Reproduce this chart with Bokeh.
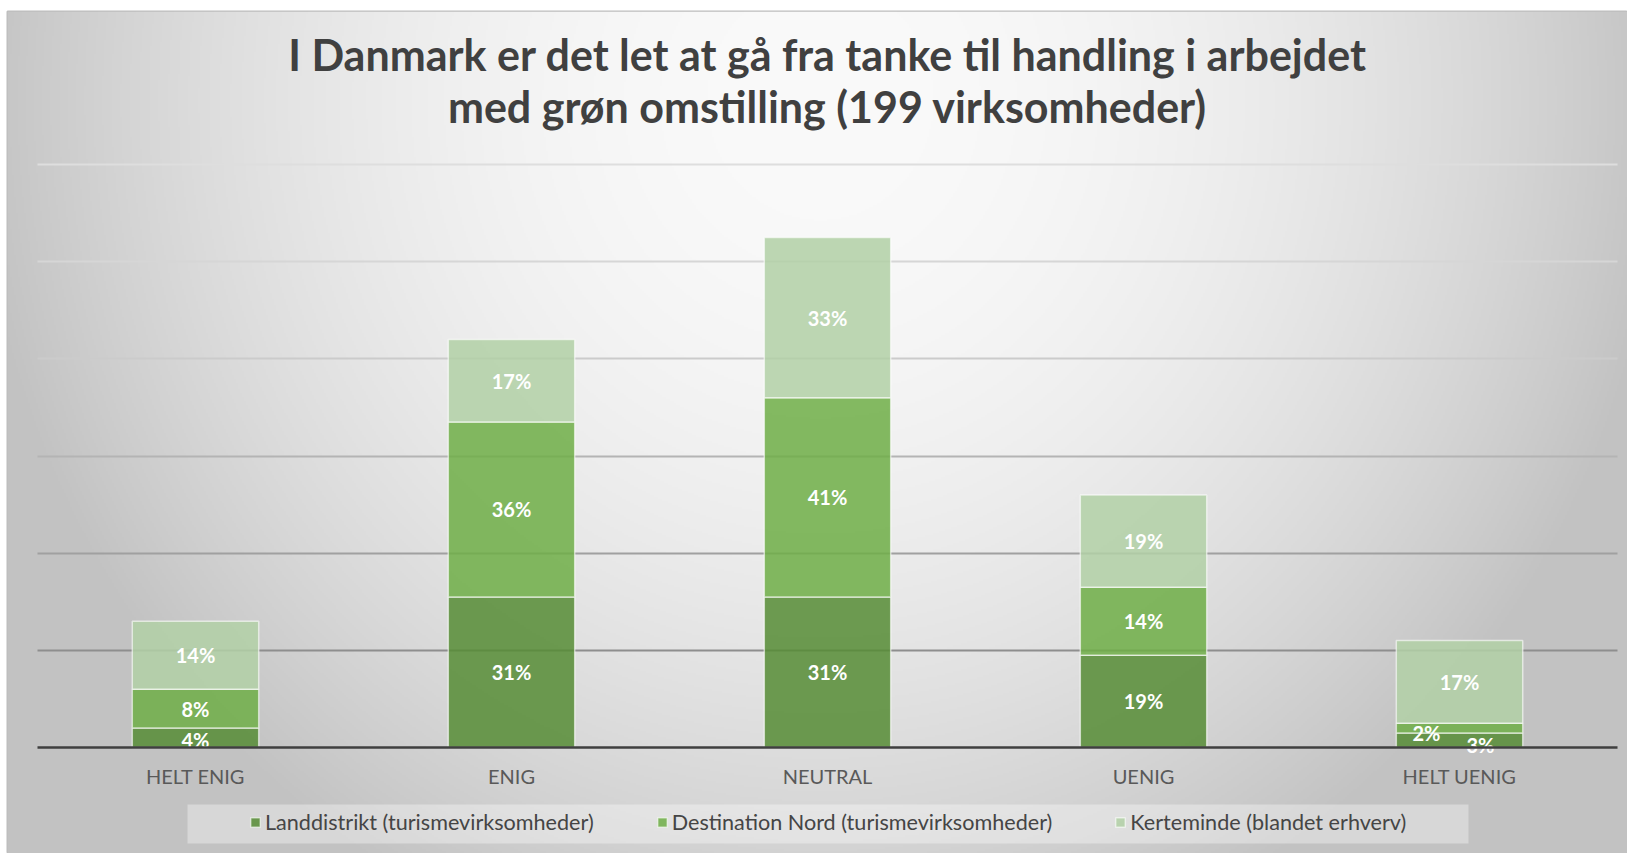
import numpy as np
from bokeh.plotting import figure
from bokeh.models import (ColumnDataSource, LinearAxis, FixedTicker, Grid, Label,
                          Legend, LegendItem, BoxAnnotation, Range1d)
from bokeh.core.properties import value
from bokeh.embed import file_html
from bokeh.resources import INLINE

# ---------------- data ----------------
categories = ["HELT ENIG", "ENIG", "NEUTRAL", "UENIG", "HELT UENIG"]
series = ["Landdistrikt (turismevirksomheder)",
          "Destination Nord (turismevirksomheder)",
          "Kerteminde (blandet erhverv)"]
landdistrikt = [4, 31, 31, 19, 3]
destination_nord = [8, 36, 41, 14, 2]
kerteminde = [14, 17, 33, 19, 17]
y_ticks = [0, 20, 40, 60, 80, 100, 120]
title_lines = ["I Danmark er det let at gå fra tanke til handling i arbejdet",
               "med grøn omstilling (199 virksomheder)"]

# ---------------- style ----------------
FONT = "Lato"
colors = ["#568c35", "#6eae46", "#b2d0a6"]
grid_colors = ["#8e8e8e", "#a0a0a0", "#b4b4b4", "#cbcbcb", "#d6d6d6", "#dedede"]
label_nudge = {("HELT UENIG", series[0]): (21, 5),
               ("HELT UENIG", series[1]): (-33, 5),
               ("HELT ENIG", series[0]): (0, 2)}

W, H = 1627, 853
ML, MT = 7, 11            # white strip left / top of the chart frame
FW, FH = W - ML, H - MT   # frame size
x_start, x_end = -0.5949, 4.5316
y_start, y_end = -21.82, 151.50

p = figure(width=W, height=H, output_backend="svg", toolbar_location=None, tools="",
           x_range=Range1d(x_start, x_end), y_range=Range1d(y_start, y_end),
           x_axis_location=None, y_axis_location=None,
           min_border_left=ML, min_border_top=MT, min_border_right=0, min_border_bottom=0)
p.grid.visible = False
p.outline_line_color = "#bdbdbd"
p.outline_line_width = 2
p.background_fill_color = "#d0d0d0"
p.border_fill_color = "white"

# radial background gradient
gw, gh = FW // 2, FH // 2
xs = (np.arange(gw) + 0.5) * FW / gw
ys = (np.arange(gh) + 0.5) * FH / gh
X, Y = np.meshgrid(xs, ys)
d2 = ((X - 813) / 850) ** 2 + ((Y - 89) / 900) ** 2
g = (250 - 56 * np.minimum(1, d2))
g = np.flipud(g).astype(np.uint8)
img = np.empty((gh, gw), dtype=np.uint32)
view = img.view(dtype=np.uint8).reshape((gh, gw, 4))
view[..., 0] = g
view[..., 1] = g
view[..., 2] = g
view[..., 3] = 255
p.image_rgba(image=[img], x=x_start, y=y_start, dw=x_end - x_start, dh=y_end - y_start,
             level="image")

# gridlines
for t, c in zip(y_ticks[1:], grid_colors):
    p.add_layout(Grid(dimension=1, ticker=FixedTicker(ticks=[t]), grid_line_color=c,
                      grid_line_width=2, cross_bounds=(-0.5, 4.5)))

# stacked bars
xpos = list(range(len(categories)))
src = ColumnDataSource(dict(x=xpos, l=landdistrikt, d=destination_nord, k=kerteminde))
renderers = p.vbar_stack(["l", "d", "k"], x="x", width=0.4, source=src,
                         fill_color=colors, fill_alpha=0.85,
                         line_color="white", line_alpha=0.6, line_width=1.5)

# data labels
lx, ly, lt, xo, yo = [], [], [], [], []
bottoms = [0] * len(categories)
for name, vals in zip(series, [landdistrikt, destination_nord, kerteminde]):
    for i, v in enumerate(vals):
        lx.append(i)
        ly.append(bottoms[i] + v / 2)
        lt.append(f"{v}%")
        nx, ny = label_nudge.get((categories[i], name), (0, 0))
        xo.append(nx)
        yo.append(ny)
        bottoms[i] += v
lsrc = ColumnDataSource(dict(x=lx, y=ly, t=lt, xo=xo, yo=yo))
p.text(x="x", y="y", text="t", x_offset="xo", y_offset="yo", source=lsrc,
       text_align="center", text_baseline="middle", text_color="white",
       text_font=value(FONT), text_font_style="bold", text_font_size="20px")

# category axis on the baseline
xaxis = LinearAxis(ticker=FixedTicker(ticks=xpos),
                   major_label_overrides={i: c for i, c in enumerate(categories)},
                   fixed_location=0, bounds=(-0.5, 4.5),
                   axis_line_color="#3f3f3f", axis_line_width=2.5,
                   major_tick_line_color=None, minor_tick_line_color=None,
                   major_label_standoff=11, major_label_text_font=FONT,
                   major_label_text_font_size="20px", major_label_text_color="#595959")
p.add_layout(xaxis, "below")

# title
for line, yy in zip(title_lines, [799, 747]):
    p.add_layout(Label(x=820, y=yy, x_units="screen", y_units="screen", text=line,
                       text_align="center", text_baseline="middle",
                       text_font=FONT, text_font_style="bold", text_font_size="43px",
                       text_color="#404040"))

# legend
p.add_layout(BoxAnnotation(left=180, right=1461, bottom=10, top=49,
                           left_units="screen", right_units="screen",
                           bottom_units="screen", top_units="screen",
                           fill_color="white", fill_alpha=0.35, line_alpha=0,
                           level="underlay"))
legend = Legend(items=[LegendItem(label=s, renderers=[r]) for s, r in zip(series, renderers)],
                orientation="horizontal", location=(232, 8), padding=10, spacing=62,
                glyph_width=12, glyph_height=12, label_standoff=4,
                label_text_font=FONT, label_text_font_size="21.6px",
                label_text_color="#454545",
                background_fill_alpha=0, border_line_alpha=0)
p.add_layout(legend, "center")

open("out.html", "w").write(file_html(p, INLINE))
